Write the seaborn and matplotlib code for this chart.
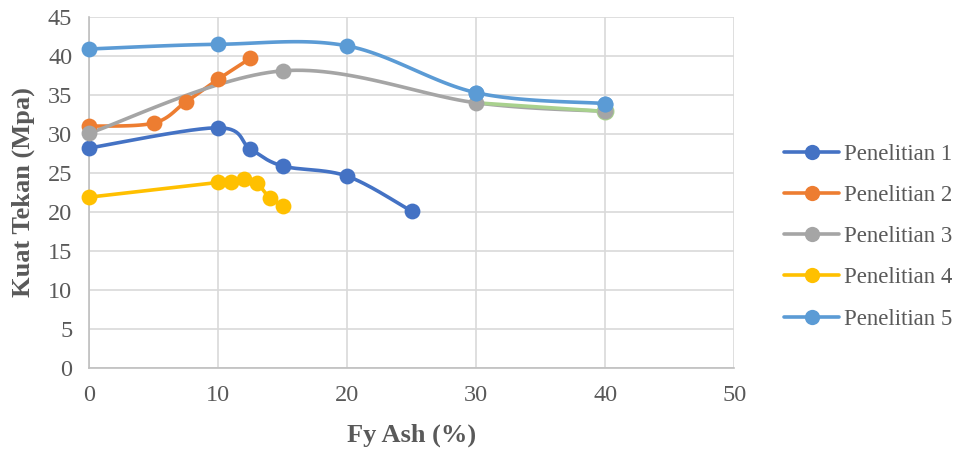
import numpy as np
import pandas as pd
import matplotlib
matplotlib.use("Agg")
import matplotlib.pyplot as plt
from matplotlib.lines import Line2D
import seaborn as sns

# Compressive strength (MPa) vs fly ash content (%) from five studies
x1 = [0, 10, 12.5, 15, 20, 25]
y1 = [28.2, 30.8, 28.1, 25.9, 24.6, 20.1]

x2 = [0, 5, 7.5, 10, 12.5]
y2 = [31.0, 31.4, 34.1, 37.0, 39.7]

x3 = [0, 15, 30, 40]
y3 = [30.1, 38.1, 34.0, 32.9]

x4 = [0, 10, 11, 12, 13, 14, 15]
y4 = [21.9, 23.8, 23.9, 24.2, 23.75, 21.8, 20.8]

x5 = [0, 10, 20, 30, 40]
y5 = [40.9, 41.5, 41.3, 35.3, 33.9]

labels = ["Penelitian 1", "Penelitian 2", "Penelitian 3", "Penelitian 4", "Penelitian 5"]
colors = ["#4472C4", "#ED7D31", "#A5A5A5", "#FFC000", "#5B9BD5"]
series = [(x1, y1), (x2, y2), (x3, y3), (x4, y4), (x5, y5)]

x_ticks = [0, 10, 20, 30, 40, 50]
y_ticks = [0, 5, 10, 15, 20, 25, 30, 35, 40, 45]


def smooth(xs, ys, n=30):
    """Bezier smoothing through the points (Catmull-Rom style tangents)."""
    xs = np.asarray(xs, float)
    ys = np.asarray(ys, float)
    pts = np.column_stack([xs, ys])
    out = [pts[0]]
    t = np.linspace(0, 1, n)[1:, None]
    for i in range(len(pts) - 1):
        p0 = pts[i - 1] if i > 0 else pts[i]
        p1 = pts[i]
        p2 = pts[i + 1]
        p3 = pts[i + 2] if i + 2 < len(pts) else pts[i + 1]
        c1 = p1 + (p2 - p0) / 6.0
        c2 = p2 - (p3 - p1) / 6.0
        seg = ((1 - t) ** 3) * p1 + 3 * ((1 - t) ** 2) * t * c1 + 3 * (1 - t) * t ** 2 * c2 + t ** 3 * p2
        out.extend(seg)
    out = np.array(out)
    return out[:, 0], out[:, 1]


sns.set_style("white")
plt.rcParams["font.family"] = ["Liberation Serif", "DejaVu Serif"]

fig = plt.figure(figsize=(9.63, 4.5), dpi=100)
ax = fig.add_axes([0.0924, 0.1822, 0.670, 0.780])

for (xs, ys), col, lab in zip(series, colors, labels):
    sx, sy = smooth(xs, ys)
    curve = pd.DataFrame({"x": sx, "y": sy})
    sns.lineplot(data=curve, x="x", y="y", sort=False, color=col, linewidth=2.6,
                 ax=ax, zorder=3, estimator=None)
    pts = pd.DataFrame({"x": xs, "y": ys})
    sns.scatterplot(data=pts, x="x", y="y", color=col, s=130, linewidth=0,
                    ax=ax, zorder=4, clip_on=False)

# trailing segment of study 3 drawn in green
gx, gy = smooth(x3[2:], y3[2:])
sns.lineplot(x=gx, y=gy, sort=False, color="#A9D18E", linewidth=2.6, ax=ax,
             zorder=3.5, estimator=None)
sns.scatterplot(x=[x3[-1]], y=[y3[-1]], color=colors[2], s=130, linewidth=1.5,
                edgecolor="#A9D18E", ax=ax, zorder=3.6)
sns.scatterplot(x=[x5[-2], x5[-1]], y=[y5[-2], y5[-1]], color=colors[4], s=130,
                linewidth=0, ax=ax, zorder=5)

ax.set_xlim(0, 50)
ax.set_ylim(0, 45)
ax.set_xticks(x_ticks)
ax.set_yticks(y_ticks)
ax.grid(True, color="#D9D9D9", linewidth=1.2)
ax.set_axisbelow(True)
for side in ["top", "right"]:
    ax.spines[side].set_visible(False)
for side in ["bottom", "left"]:
    ax.spines[side].set_color("#BFBFBF")
    ax.spines[side].set_linewidth(1.2)
ax.tick_params(axis="both", length=0, labelsize=17.5, colors="#595959", pad=12)

ax.set_xlabel("Fy Ash (%)", fontsize=19, fontweight="bold", color="#595959", labelpad=13)
ax.set_ylabel("Kuat Tekan (Mpa)", fontsize=19, fontweight="bold", color="#595959")
ax.yaxis.set_label_coords(-0.102, 0.5)
ax.yaxis.label.set_va("center")

handles = [Line2D([0], [0], color=c, linewidth=2.6, marker="o", markersize=11,
                  markeredgewidth=0) for c in colors]
fig.legend(handles, labels, loc="center left", bbox_to_anchor=(0.793, 0.474),
           frameon=False, fontsize=16.5, labelcolor="#595959", handlelength=2.4,
           handletextpad=0.22, labelspacing=0.88)

fig.savefig("out.png", dpi=100)
